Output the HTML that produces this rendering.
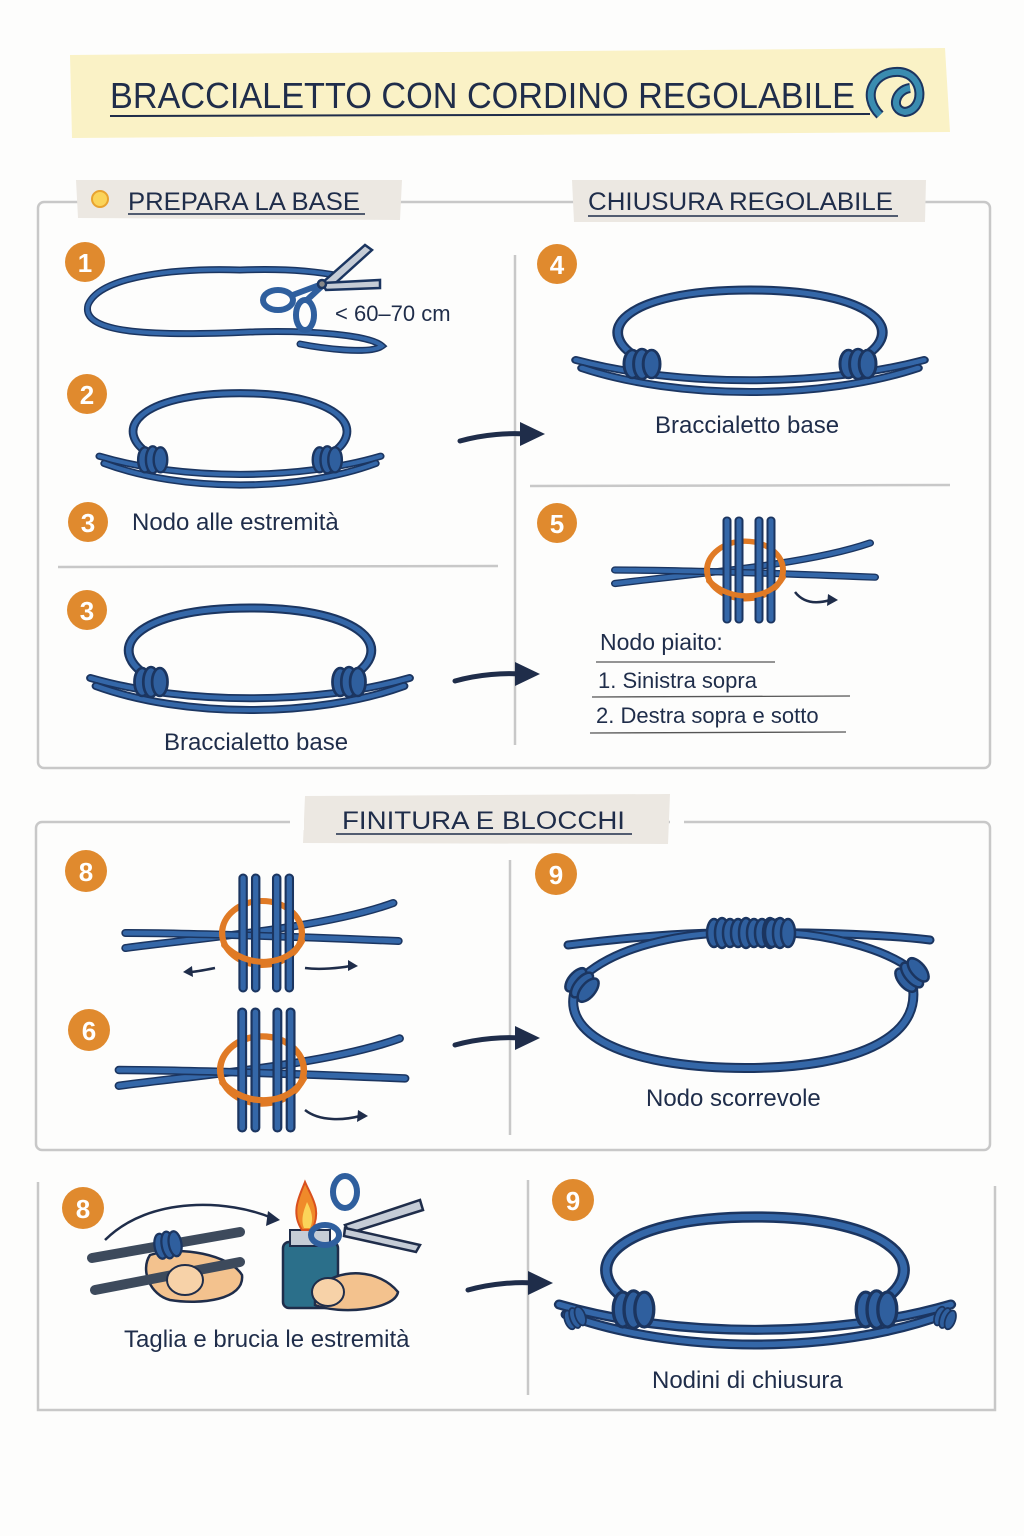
<!DOCTYPE html>
<html><head><meta charset="utf-8">
<style>
html,body{margin:0;padding:0;background:#fdfdfc;}
svg{display:block;}
text{font-family:"Liberation Sans",sans-serif;fill:#1f2d4a;}
</style></head>
<body>
<svg width="1024" height="1536" viewBox="0 0 1024 1536" xmlns="http://www.w3.org/2000/svg">
<defs>
  <g id="knot">
    <ellipse cx="-8" cy="0" rx="7" ry="14" fill="#2f5f9e" stroke="#1b3560" stroke-width="2.5"/>
    <ellipse cx="0" cy="0" rx="7" ry="15" fill="#2f5f9e" stroke="#1b3560" stroke-width="2.5"/>
    <ellipse cx="8" cy="0" rx="7" ry="14" fill="#2f5f9e" stroke="#1b3560" stroke-width="2.5"/>
  </g>
  <g id="brace">
    <g fill="none" stroke-linecap="round">
      <path d="M -90 18 C -135 -10,-105 -52,0 -52 C 105 -52,135 -10,90 18" stroke="#1b3560" stroke-width="9"/>
      <path d="M -90 18 C -135 -10,-105 -52,0 -52 C 105 -52,135 -10,90 18" stroke="#3467a8" stroke-width="5"/>
      <path d="M -145 18 C -60 45,60 45,145 18" stroke="#1b3560" stroke-width="8"/>
      <path d="M -145 18 C -60 45,60 45,145 18" stroke="#3467a8" stroke-width="4.5"/>
      <path d="M -140 26 C -60 58,60 58,140 26" stroke="#1b3560" stroke-width="8"/>
      <path d="M -140 26 C -60 58,60 58,140 26" stroke="#3467a8" stroke-width="4.5"/>
    </g>
    <use href="#knot" x="-90" y="22"/>
    <use href="#knot" x="90" y="22"/>
  </g>
  <g id="cross">
    <g fill="none" stroke-linecap="round">
      <path d="M -130 15 C -60 5,60 -5,125 -30" stroke="#1b3560" stroke-width="8"/>
      <path d="M -130 15 C -60 5,60 -5,125 -30" stroke="#3467a8" stroke-width="5"/>
      <path d="M -130 0 C -60 0,60 5,130 8" stroke="#1b3560" stroke-width="8"/>
      <path d="M -130 0 C -60 0,60 5,130 8" stroke="#3467a8" stroke-width="5"/>
      <ellipse cx="0" cy="0" rx="38" ry="32" stroke="#e07a25" stroke-width="6"/>
      <path d="M -18 -55 V 55 M -6 -55 V 55 M 14 -55 V 55 M 26 -55 V 55" stroke="#1b3560" stroke-width="9"/>
      <path d="M -18 -55 V 55 M -6 -55 V 55 M 14 -55 V 55 M 26 -55 V 55" stroke="#3467a8" stroke-width="5"/>
      <path d="M -36 12 C -15 36,25 34,38 8" stroke="#e07a25" stroke-width="6"/>
    </g>
  </g>
  <g id="arrow">
    <path d="M 0 5 C 25 -2,50 -3,65 -2" fill="none" stroke="#1f2d4a" stroke-width="5" stroke-linecap="round"/>
    <path d="M 60 -14 L 85 -2 L 60 10 Z" fill="#1f2d4a"/>
  </g>
</defs>

<!-- Title -->
<path d="M 70 55 L 945 48 L 950 132 L 72 138 Z" fill="#faf2c6"/>
<text x="110" y="108" font-size="36" textLength="745" lengthAdjust="spacingAndGlyphs">BRACCIALETTO CON CORDINO REGOLABILE</text>
<path d="M 110 116 L 870 114" stroke="#1f2d4a" stroke-width="2"/>
<path d="M 880 115 C 860 95,875 70,900 72 C 925 75,925 110,905 112 C 890 110,895 90,910 88" fill="none" stroke="#1b3560" stroke-width="10"/>
<path d="M 880 115 C 860 95,875 70,900 72 C 925 75,925 110,905 112 C 890 110,895 90,910 88" fill="none" stroke="#3a8cb0" stroke-width="6"/>

<!-- Panel 1 -->
<rect x="38" y="202" width="952" height="566" rx="6" fill="none" stroke="#c8c8c8" stroke-width="2.5"/>
<path d="M 76 180 L 402 180 L 400 220 L 78 218 Z" fill="#ece8e2"/>
<circle cx="100" cy="199" r="8" fill="#fbd45a" stroke="#e8a330" stroke-width="2"/>
<text x="128" y="210" font-size="25" textLength="232" lengthAdjust="spacingAndGlyphs">PREPARA LA BASE</text>
<path d="M 128 214 L 365 214" stroke="#1f2d4a" stroke-width="1.5"/>
<path d="M 572 180 L 926 180 L 925 222 L 574 222 Z" fill="#ece8e2"/>
<text x="588" y="210" font-size="25" textLength="305" lengthAdjust="spacingAndGlyphs">CHIUSURA REGOLABILE</text>
<path d="M 588 216 L 898 216" stroke="#1f2d4a" stroke-width="1.5"/>
<path d="M 515 255 V 745" stroke="#c8c8c8" stroke-width="2.5"/>
<path d="M 58 567 L 498 566" stroke="#c8c8c8" stroke-width="2.5"/>
<path d="M 530 486 L 950 485" stroke="#c8c8c8" stroke-width="2.5"/>

<!-- Step 1 -->
<path d="M 240 270 C 180 268,100 275,88 305 C 80 335,160 336,250 332 C 310 330,370 335,382 346 C 370 355,320 348,300 344 M 240 270 C 290 268,320 272,340 276" fill="none" stroke="#1b3560" stroke-width="7" stroke-linecap="round"/>
<path d="M 240 270 C 180 268,100 275,88 305 C 80 335,160 336,250 332 C 310 330,370 335,382 346 C 370 355,320 348,300 344 M 240 270 C 290 268,320 272,340 276" fill="none" stroke="#3467a8" stroke-width="4" stroke-linecap="round"/>
<g stroke="#1b3560" stroke-width="2.5">
  <path d="M 322 283 L 365 245 L 372 250 L 330 288 Z" fill="#c5ccd6"/>
  <path d="M 322 283 L 380 280 L 380 288 L 326 290 Z" fill="#c5ccd6"/>
  <ellipse cx="278" cy="300" rx="15" ry="10" fill="none" stroke-width="6" stroke="#2f5f9e"/>
  <ellipse cx="305" cy="315" rx="9" ry="15" fill="none" stroke-width="6" stroke="#2f5f9e"/>
  <path d="M 290 296 L 322 284 M 307 300 L 322 286" stroke="#2f5f9e" stroke-width="6"/>
  <circle cx="322" cy="284" r="4" fill="#888"/>
</g>
<text x="335" y="321" font-size="22">&lt; 60–70 cm</text>

<!-- Step 2/3 -->
<use href="#brace" transform="translate(240,440) scale(0.97,0.9)"/>
<text x="132" y="530" font-size="24">Nodo alle estremità</text>
<use href="#arrow" transform="translate(460,436)"/>

<use href="#brace" transform="translate(250,660) scale(1.1,1.0)"/>
<text x="164" y="750" font-size="24">Braccialetto base</text>
<use href="#arrow" transform="translate(455,676)"/>

<!-- Step 4 -->
<use href="#brace" transform="translate(750,342) scale(1.2,1.0)"/>
<text x="655" y="433" font-size="24">Braccialetto base</text>

<!-- Step 5 -->
<use href="#cross" transform="translate(745,570) scale(1.0,0.9)"/>
<path d="M 795 592 C 805 605,820 603,830 600" fill="none" stroke="#1f2d4a" stroke-width="2.5"/>
<path d="M 828 594 L 838 600 L 827 606 Z" fill="#1f2d4a"/>
<text x="600" y="650" font-size="23">Nodo piaito:</text>
<path d="M 596 662 L 775 662" stroke="#555" stroke-width="1.3"/>
<text x="598" y="688" font-size="22">1. Sinistra sopra</text>
<path d="M 592 697 L 850 696" stroke="#555" stroke-width="1.3"/>
<text x="596" y="723" font-size="22">2. Destra sopra e sotto</text>
<path d="M 590 733 L 846 732" stroke="#555" stroke-width="1.3"/>

<!-- Panel 2 -->
<rect x="36" y="822" width="954" height="328" rx="6" fill="none" stroke="#c8c8c8" stroke-width="2.5"/>
<path d="M 305 796 L 670 794 L 668 844 L 303 843 Z" fill="#ece8e2"/>
<rect x="290" y="812" width="14" height="18" fill="#fdfdfc"/>
<rect x="670" y="812" width="14" height="18" fill="#fdfdfc"/>
<text x="342" y="829" font-size="25" textLength="283" lengthAdjust="spacingAndGlyphs">FINITURA E BLOCCHI</text>
<path d="M 336 834 L 632 834" stroke="#1f2d4a" stroke-width="1.5"/>
<path d="M 510 860 V 1135" stroke="#c8c8c8" stroke-width="2.5"/>

<use href="#cross" transform="translate(262,933) scale(1.05,1.0)"/>
<path d="M 215 968 C 205 970,195 972,190 972 M 305 968 C 320 970,340 968,350 966" fill="none" stroke="#1f2d4a" stroke-width="2.5"/>
<path d="M 192 966 L 183 972 L 193 977 Z M 348 960 L 358 966 L 348 971 Z" fill="#1f2d4a"/>
<use href="#cross" transform="translate(262,1070) scale(1.1,1.05)"/>
<path d="M 305 1110 C 320 1122,345 1120,360 1116" fill="none" stroke="#1f2d4a" stroke-width="2.5"/>
<path d="M 358 1110 L 368 1116 L 357 1122 Z" fill="#1f2d4a"/>
<use href="#arrow" transform="translate(455,1040)"/>

<!-- Step 9 sliding -->
<g fill="none" stroke-linecap="round">
  <path d="M 575 990 C 560 1040,640 1068,745 1068 C 860 1068,930 1035,910 975" stroke="#1b3560" stroke-width="10"/>
  <path d="M 575 990 C 560 1040,640 1068,745 1068 C 860 1068,930 1035,910 975" stroke="#3467a8" stroke-width="6"/>
  <path d="M 568 945 C 650 935,700 932,750 933 C 800 932,880 934,930 940" stroke="#1b3560" stroke-width="9"/>
  <path d="M 568 945 C 650 935,700 932,750 933 C 800 932,880 934,930 940" stroke="#3467a8" stroke-width="5"/>
  <path d="M 585 975 C 620 945,680 935,720 933 M 912 970 C 880 945,820 935,790 933" stroke="#1b3560" stroke-width="9"/>
  <path d="M 585 975 C 620 945,680 935,720 933 M 912 970 C 880 945,820 935,790 933" stroke="#3467a8" stroke-width="5"/>
</g>
<g transform="translate(750,933)"><use href="#knot" x="-28"/><use href="#knot" x="-4"/><use href="#knot" x="20"/><use href="#knot" x="30"/></g>
<use href="#knot" transform="translate(582,985) rotate(40)"/>
<use href="#knot" transform="translate(912,975) rotate(-40)"/>
<text x="646" y="1106" font-size="24">Nodo scorrevole</text>

<!-- Panel 3 -->
<path d="M 38 1182 V 1410 L 995 1410 V 1186" fill="none" stroke="#c8c8c8" stroke-width="2.5"/>
<path d="M 528 1180 V 1395" stroke="#c8c8c8" stroke-width="2.5"/>

<path d="M 150 1255 C 180 1245,230 1255,242 1275 C 245 1300,200 1305,170 1300 C 150 1295,140 1270,150 1255 Z" fill="#f3c28e" stroke="#1f2d4a" stroke-width="2.5"/>
<path d="M 92 1258 L 240 1232 M 95 1290 L 240 1262" stroke="#3d4a5c" stroke-width="10" stroke-linecap="round"/>
<use href="#knot" transform="translate(168,1245) rotate(-10) scale(0.9)"/>
<ellipse cx="185" cy="1280" rx="18" ry="15" fill="#f7d2a8" stroke="#1f2d4a" stroke-width="2"/>
<path d="M 105 1240 C 150 1195,230 1200,272 1218" fill="none" stroke="#1f2d4a" stroke-width="2.5"/>
<path d="M 268 1211 L 280 1220 L 266 1226 Z" fill="#1f2d4a"/>
<rect x="283" y="1242" width="55" height="66" rx="6" fill="#2b6f8a" stroke="#1f2d4a" stroke-width="2.5"/>
<rect x="290" y="1230" width="40" height="16" fill="#c5ccd6" stroke="#1f2d4a" stroke-width="2"/>
<path d="M 302 1230 C 290 1212,300 1195,305 1182 C 312 1198,322 1210,312 1230 Z" fill="#f08a2a" stroke="#d9501e" stroke-width="2"/>
<path d="M 304 1228 C 300 1218,305 1208,307 1202 C 312 1212,314 1220,310 1228 Z" fill="#fbd45a"/>
<path d="M 315 1290 C 340 1265,380 1270,398 1292 C 395 1310,340 1315,315 1305 Z" fill="#f3c28e" stroke="#1f2d4a" stroke-width="2.5"/>
<ellipse cx="328" cy="1292" rx="16" ry="14" fill="#f7d2a8" stroke="#1f2d4a" stroke-width="2"/>
<g stroke="#1f2d4a" stroke-width="2.5">
  <path d="M 345 1225 L 420 1200 L 423 1210 L 350 1233 Z" fill="#c5ccd6"/>
  <path d="M 345 1228 L 420 1245 L 416 1252 L 344 1236 Z" fill="#c5ccd6"/>
  <ellipse cx="345" cy="1192" rx="12" ry="16" fill="none" stroke="#2f5f9e" stroke-width="6"/>
  <ellipse cx="325" cy="1235" rx="14" ry="10" fill="none" stroke="#2f5f9e" stroke-width="6"/>
</g>
<text x="124" y="1347" font-size="24">Taglia e brucia le estremità</text>
<use href="#arrow" transform="translate(468,1285)"/>

<use href="#brace" transform="translate(755,1282) scale(1.35,1.25)"/>
<use href="#knot" transform="translate(575,1318) rotate(-20) scale(0.7)"/>
<use href="#knot" transform="translate(945,1318) rotate(20) scale(0.7)"/>
<text x="652" y="1388" font-size="24">Nodini di chiusura</text>

<g font-size="26" font-weight="bold" text-anchor="middle">
  <circle cx="85" cy="262" r="20" fill="#e08a2e"/><text x="85" y="272" style="fill:#fff">1</text>
  <circle cx="87" cy="394" r="20" fill="#e08a2e"/><text x="87" y="404" style="fill:#fff">2</text>
  <circle cx="88" cy="522" r="20" fill="#e08a2e"/><text x="88" y="532" style="fill:#fff">3</text>
  <circle cx="87" cy="610" r="20" fill="#e08a2e"/><text x="87" y="620" style="fill:#fff">3</text>
  <circle cx="557" cy="264" r="20" fill="#e08a2e"/><text x="557" y="274" style="fill:#fff">4</text>
  <circle cx="557" cy="523" r="20" fill="#e08a2e"/><text x="557" y="533" style="fill:#fff">5</text>
  <circle cx="86" cy="871" r="21" fill="#e08a2e"/><text x="86" y="881" style="fill:#fff">8</text>
  <circle cx="89" cy="1030" r="21" fill="#e08a2e"/><text x="89" y="1040" style="fill:#fff">6</text>
  <circle cx="556" cy="874" r="21" fill="#e08a2e"/><text x="556" y="884" style="fill:#fff">9</text>
  <circle cx="83" cy="1208" r="21" fill="#e08a2e"/><text x="83" y="1218" style="fill:#fff">8</text>
  <circle cx="573" cy="1200" r="21" fill="#e08a2e"/><text x="573" y="1210" style="fill:#fff">9</text>
</g>
</svg>
</body></html>
